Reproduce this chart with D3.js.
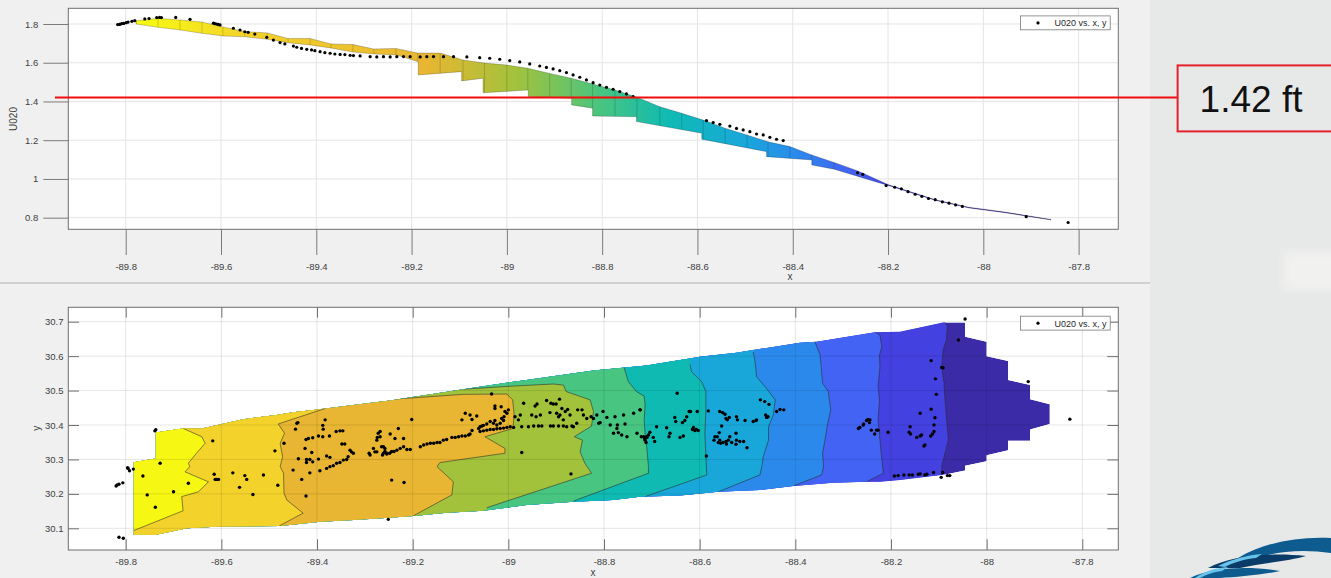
<!DOCTYPE html>
<html>
<head>
<meta charset="utf-8">
<script src="https://cdn.jsdelivr.net/npm/d3@7"></script>
<style>
body { margin: 0; background: #f0f0f0; }
svg { display: block; }
</style>
</head>
<body>
<svg id="fig" width="1331" height="578"></svg>
<script>
// ---- data ----
var xTicks = [-89.8, -89.6, -89.4, -89.2, -89, -88.8, -88.6, -88.4, -88.2, -88, -87.8];
var xTickLabels = ['-89.8', '-89.6', '-89.4', '-89.2', '-89', '-88.8', '-88.6', '-88.4', '-88.2', '-88', '-87.8'];
var uTicks = [0.8, 1, 1.2, 1.4, 1.6, 1.8];
var uTickLabels = ['0.8', '1', '1.2', '1.4', '1.6', '1.8'];
var yTicks = [30.1, 30.2, 30.3, 30.4, 30.5, 30.6, 30.7];
var yTickLabels = ['30.1', '30.2', '30.3', '30.4', '30.5', '30.6', '30.7'];
var legendLabel = 'U020 vs. x, y';
var levelValue = 1.42;
var levelLabel = '1.42 ft';

// side view of the fitted surface (x, U020)
var surfaceTop = [[-89.778,1.817],[-89.732,1.829],[-89.686,1.821],[-89.640,1.810],[-89.596,1.785],[-89.550,1.761],
  [-89.503,1.754],[-89.459,1.725],[-89.413,1.725],[-89.369,1.697],[-89.323,1.694],[-89.279,1.671],[-89.233,1.674],
  [-89.187,1.650],[-89.140,1.650],[-89.092,1.614],[-89.047,1.598],[-89.000,1.588],[-88.956,1.571],[-88.910,1.545],
  [-88.865,1.520],[-88.820,1.490],[-88.773,1.459],[-88.727,1.422],[-88.679,1.373],[-88.633,1.339],[-88.588,1.304],
  [-88.542,1.262],[-88.496,1.227],[-88.452,1.192],[-88.406,1.167],[-88.360,1.124],[-88.313,1.085],[-88.263,1.041],
  [-88.200,0.971],[-88.100,0.892],[-88.030,0.854],[-87.959,0.831],[-87.858,0.791]];
var surfaceBottom = [[-89.778,1.800],[-89.732,1.783],[-89.686,1.769],[-89.640,1.752],[-89.596,1.738],[-89.550,1.734],
  [-89.503,1.721],[-89.459,1.703],[-89.413,1.692],[-89.367,1.675],[-89.323,1.655],[-89.277,1.645],[-89.231,1.640],
  [-89.186,1.605],[-89.186,1.537],[-89.095,1.554],[-89.095,1.506],[-89.050,1.520],[-89.050,1.445],[-88.955,1.459],
  [-88.955,1.425],[-88.864,1.416],[-88.864,1.382],[-88.820,1.365],[-88.820,1.325],[-88.728,1.321],[-88.728,1.296],
  [-88.591,1.236],[-88.591,1.205],[-88.455,1.141],[-88.455,1.115],[-88.360,1.098],[-88.360,1.072],[-88.313,1.050],
  [-88.242,0.997],[-88.200,0.966],[-88.100,0.889],[-88.030,0.850],[-87.959,0.827],[-87.858,0.788]];
var surfaceColorX = [-89.75, -89.55, -89.17, -88.98, -88.80, -88.66, -88.50, -88.39, -88.28, -88.18, -88.0];

var topPoints = [[-89.817,1.797],[-89.813,1.798],[-89.811,1.800],[-89.808,1.802],[-89.804,1.803],[-89.799,1.807],
  [-89.795,1.810],[-89.787,1.814],[-89.781,1.817],[-89.760,1.826],[-89.751,1.828],[-89.735,1.833],[-89.729,1.834],
  [-89.725,1.833],[-89.695,1.834],[-89.665,1.824],[-89.616,1.804],[-89.613,1.802],[-89.609,1.800],[-89.606,1.798],
  [-89.602,1.795],[-89.574,1.778],[-89.560,1.769],[-89.550,1.760],[-89.543,1.757],[-89.529,1.748],[-89.504,1.731],
  [-89.490,1.717],[-89.476,1.704],[-89.466,1.697],[-89.448,1.686],[-89.441,1.680],[-89.431,1.674],[-89.420,1.669],
  [-89.410,1.666],[-89.403,1.662],[-89.392,1.657],[-89.382,1.652],[-89.371,1.649],[-89.361,1.645],[-89.350,1.643],
  [-89.340,1.642],[-89.329,1.638],[-89.322,1.637],[-89.308,1.635],[-89.287,1.631],[-89.273,1.630],[-89.259,1.631],
  [-89.245,1.630],[-89.231,1.631],[-89.217,1.632],[-89.203,1.631],[-89.182,1.630],[-89.168,1.631],[-89.154,1.632],
  [-89.133,1.631],[-89.112,1.631],[-89.084,1.630],[-89.057,1.626],[-89.036,1.623],[-89.015,1.618],[-88.994,1.611],
  [-88.973,1.604],[-88.952,1.594],[-88.931,1.583],[-88.917,1.576],[-88.903,1.568],[-88.889,1.559],[-88.875,1.549],
  [-88.861,1.537],[-88.847,1.525],[-88.833,1.511],[-88.819,1.497],[-88.805,1.485],[-88.791,1.473],[-88.777,1.463],
  [-88.763,1.451],[-88.749,1.439],[-88.735,1.425],[-88.581,1.301],[-88.567,1.291],[-88.553,1.282],[-88.532,1.273],
  [-88.518,1.261],[-88.504,1.253],[-88.490,1.244],[-88.476,1.232],[-88.462,1.227],[-88.448,1.215],[-88.434,1.205],
  [-88.420,1.198],[-88.264,1.032],[-88.253,1.024],[-88.204,0.966],[-88.186,0.957],[-88.172,0.949],[-88.158,0.934],
  [-88.143,0.921],[-88.129,0.910],[-88.115,0.899],[-88.101,0.893],[-88.086,0.882],[-88.072,0.875],[-88.058,0.866],
  [-88.044,0.858],[-87.910,0.805],[-87.822,0.775]];

// plan view: outline of the filled contours (x, y)
var envelope = [[-89.783,30.081],[-89.783,30.292],[-89.737,30.303],[-89.737,30.378],[-89.680,30.390],[-89.641,30.390],
  [-89.554,30.417],[-89.484,30.429],[-89.450,30.437],[-89.394,30.446],[-89.324,30.458],[-89.247,30.471],[-89.094,30.504],
  [-88.962,30.531],[-88.822,30.558],[-88.711,30.573],[-88.599,30.598],[-88.523,30.610],[-88.390,30.639],[-88.355,30.642],
  [-88.233,30.669],[-88.181,30.671],[-88.091,30.698],[-88.045,30.698],[-88.045,30.656],[-88.000,30.642],[-88.000,30.600],
  [-87.955,30.586],[-87.955,30.531],[-87.909,30.516],[-87.909,30.475],[-87.868,30.460],[-87.868,30.403],[-87.909,30.387],
  [-87.909,30.354],[-87.955,30.354],[-87.955,30.327],[-88.000,30.312],[-88.000,30.295],[-88.045,30.282],[-88.045,30.268],
  [-88.086,30.256],[-88.181,30.240],[-88.223,30.235],[-88.251,30.235],[-88.321,30.232],[-88.404,30.223],[-88.474,30.211],
  [-88.561,30.206],[-88.641,30.195],[-88.725,30.192],[-88.781,30.182],[-88.864,30.177],[-88.962,30.168],[-89.052,30.151],
  [-89.129,30.145],[-89.199,30.136],[-89.258,30.130],[-89.324,30.124],[-89.394,30.119],[-89.477,30.107],[-89.603,30.105],
  [-89.672,30.100],[-89.737,30.081]];

// contour level lines, west to east
var contour1 = [[-89.680,30.390],[-89.641,30.366],[-89.634,30.347],[-89.652,30.318],[-89.669,30.289],[-89.666,30.279],
  [-89.676,30.264],[-89.627,30.235],[-89.648,30.206],[-89.683,30.192],[-89.680,30.151],[-89.784,30.093]];
var contour2 = [[-89.383,30.448],[-89.481,30.403],[-89.468,30.376],[-89.477,30.347],[-89.472,30.308],[-89.477,30.279],
  [-89.470,30.260],[-89.469,30.202],[-89.463,30.182],[-89.429,30.144],[-89.479,30.107]];
var contour3 = [[-89.240,30.475],[-89.094,30.489],[-89.003,30.490],[-88.991,30.473],[-88.988,30.434],[-88.990,30.390],
  [-89.049,30.366],[-89.007,30.332],[-89.007,30.318],[-89.143,30.291],[-89.149,30.279],[-89.115,30.235],[-89.118,30.197],
  [-89.199,30.136]];
var contour4 = [[-89.094,30.504],[-88.990,30.513],[-88.906,30.519],[-88.885,30.516],[-88.879,30.497],[-88.829,30.473],
  [-88.822,30.439],[-88.826,30.397],[-88.862,30.366],[-88.845,30.356],[-88.850,30.322],[-88.840,30.289],[-88.826,30.260],
  [-89.045,30.160]];
var contour5 = [[-88.758,30.567],[-88.749,30.526],[-88.732,30.497],[-88.716,30.484],[-88.714,30.458],[-88.716,30.415],
  [-88.714,30.372],[-88.710,30.328],[-88.707,30.279],[-88.707,30.260],[-88.864,30.179]];
var contour6 = [[-88.620,30.576],[-88.617,30.555],[-88.596,30.526],[-88.587,30.497],[-88.587,30.444],[-88.589,30.376],
  [-88.587,30.308],[-88.585,30.255],[-88.714,30.192]];
var contour7 = [[-88.488,30.612],[-88.484,30.584],[-88.481,30.540],[-88.463,30.511],[-88.442,30.473],[-88.446,30.429],
  [-88.456,30.395],[-88.456,30.356],[-88.467,30.308],[-88.470,30.279],[-88.474,30.255],[-88.561,30.206]];
var contour8 = [[-88.359,30.641],[-88.348,30.603],[-88.343,30.521],[-88.331,30.497],[-88.326,30.444],[-88.333,30.400],
  [-88.338,30.356],[-88.343,30.318],[-88.341,30.279],[-88.345,30.255],[-88.404,30.223]];
var contour9 = [[-88.233,30.670],[-88.223,30.661],[-88.219,30.627],[-88.224,30.603],[-88.223,30.569],[-88.227,30.511],
  [-88.224,30.473],[-88.227,30.415],[-88.223,30.356],[-88.219,30.298],[-88.216,30.260],[-88.251,30.235]];
var contour10 = [[-88.087,30.698],[-88.082,30.686],[-88.084,30.647],[-88.091,30.618],[-88.094,30.569],[-88.089,30.521],
  [-88.087,30.473],[-88.084,30.424],[-88.080,30.356],[-88.087,30.318],[-88.094,30.279],[-88.094,30.250]];
var contours = [contour1, contour2, contour3, contour4, contour5, contour6, contour7, contour8, contour9, contour10];

var planPoints = [[-89.737,30.386],[-89.795,30.274],[-89.792,30.267],[-89.784,30.272],[-89.806,30.232],[-89.728,30.289],
  [-89.764,30.252],[-89.755,30.197],[-89.700,30.206],[-89.669,30.231],[-89.738,30.161],[-89.618,30.354],[-89.615,30.257],
  [-89.613,30.242],[-89.610,30.242],[-89.606,30.242],[-89.576,30.261],[-89.562,30.219],[-89.551,30.253],[-89.547,30.242],
  [-89.534,30.198],[-89.512,30.255],[-89.488,30.325],[-89.482,30.225],[-89.469,30.347],[-89.450,30.269],[-89.432,30.242],
  [-89.423,30.194],[-89.442,30.405],[-89.445,30.388],[-89.440,30.407],[-89.425,30.332],[-89.423,30.358],[-89.418,30.361],
  [-89.411,30.320],[-89.409,30.363],[-89.397,30.368],[-89.388,30.366],[-89.383,30.415],[-89.388,30.399],[-89.387,30.388],
  [-89.374,30.368],[-89.360,30.381],[-89.352,30.383],[-89.346,30.383],[-89.348,30.345],[-89.342,30.345],[-89.331,30.327],
  [-89.328,30.322],[-89.324,30.318],[-89.335,30.308],[-89.338,30.300],[-89.345,30.298],[-89.352,30.291],[-89.359,30.289],
  [-89.366,30.282],[-89.373,30.279],[-89.380,30.274],[-89.394,30.267],[-89.415,30.261],[-89.422,30.300],[-89.415,30.300],
  [-89.397,30.301],[-89.422,30.291],[-89.409,30.293],[-89.380,30.310],[-89.373,30.306],[-89.439,30.302],[-89.272,30.376],
  [-89.268,30.366],[-89.274,30.364],[-89.275,30.356],[-89.282,30.332],[-89.279,30.322],[-89.289,30.313],[-89.291,30.318],
  [-89.275,30.322],[-89.261,30.337],[-89.258,30.332],[-89.254,30.318],[-89.263,30.313],[-89.251,30.126],[-89.805,30.071],
  [-89.820,30.223],[-89.818,30.226],[-89.814,30.228],[-89.796,30.276],[-89.814,30.074],[-89.739,30.383],
  [-89.268,30.381],[-89.265,30.337],[-89.261,30.318],[-89.258,30.323],[-89.254,30.316],[-89.248,30.318],[-89.244,30.323],
  [-89.239,30.323],[-89.233,30.327],[-89.226,30.332],[-89.219,30.337],[-89.212,30.329],[-89.205,30.329],[-89.247,30.374],
  [-89.237,30.361],[-89.230,30.390],[-89.219,30.361],[-89.184,30.337],[-89.177,30.342],[-89.170,30.345],[-89.163,30.347],
  [-89.156,30.347],[-89.149,30.349],[-89.143,30.349],[-89.136,30.356],[-89.129,30.358],[-89.118,30.364],[-89.111,30.364],
  [-89.104,30.366],[-89.097,30.368],[-89.090,30.368],[-89.083,30.371],[-89.080,30.374],[-89.076,30.384],[-89.097,30.415],
  [-89.090,30.434],[-89.080,30.429],[-89.076,30.416],[-89.066,30.426],[-89.062,30.390],[-89.059,30.395],[-89.055,30.397],
  [-89.052,30.399],[-89.045,30.403],[-89.038,30.410],[-89.031,30.405],[-89.028,30.413],[-89.024,30.400],[-89.017,30.405],
  [-89.014,30.419],[-89.010,30.413],[-89.009,30.424],[-89.028,30.455],[-89.028,30.448],[-89.015,30.453],[-89.007,30.439],
  [-89.003,30.434],[-89.000,30.444],[-89.202,30.416],[-89.244,30.240],[-89.218,30.233],[-89.035,30.490],[-89.059,30.381],
  [-89.052,30.383],[-89.045,30.385],[-89.038,30.387],[-89.031,30.387],[-89.024,30.389],[-89.017,30.390],[-89.010,30.391],
  [-89.003,30.393],[-88.996,30.395],[-88.989,30.393],[-88.986,30.424],[-88.975,30.429],[-88.979,30.415],[-88.968,30.463],
  [-88.951,30.429],[-88.944,30.455],[-88.940,30.461],[-88.942,30.424],[-88.933,30.429],[-88.920,30.471],[-88.911,30.463],
  [-88.906,30.461],[-88.900,30.461],[-88.893,30.475],[-88.913,30.436],[-88.899,30.434],[-88.895,30.424],[-88.892,30.429],
  [-88.888,30.448],[-88.885,30.415],[-88.881,30.439],[-88.876,30.445],[-88.871,30.429],[-88.972,30.395],[-88.958,30.395],
  [-88.947,30.397],[-88.937,30.397],[-88.930,30.397],[-88.912,30.397],[-88.906,30.397],[-88.895,30.397],[-88.885,30.397],
  [-88.878,30.395],[-88.867,30.397],[-88.864,30.395],[-88.857,30.405],[-88.855,30.444],[-88.846,30.444],[-88.843,30.429],
  [-88.836,30.419],[-88.972,30.320],[-88.869,30.258],[-88.827,30.424],[-88.822,30.419],[-88.815,30.429],[-88.811,30.405],
  [-88.808,30.407],[-88.802,30.439],[-88.794,30.422],[-88.787,30.400],[-88.777,30.424],[-88.772,30.400],[-88.773,30.390],
  [-88.780,30.376],[-88.770,30.378],[-88.763,30.371],[-88.759,30.429],[-88.756,30.403],[-88.752,30.366],[-88.738,30.434],
  [-88.731,30.376],[-88.724,30.444],[-88.717,30.366],[-88.714,30.356],[-88.710,30.364],[-88.707,30.371],
  [-88.725,30.444],[-88.722,30.366],[-88.715,30.361],[-88.711,30.366],[-88.697,30.364],[-88.694,30.352],[-88.704,30.379],
  [-88.712,30.349],[-88.690,30.395],[-88.669,30.392],[-88.662,30.376],[-88.664,30.366],[-88.652,30.422],[-88.650,30.410],
  [-88.647,30.492],[-88.641,30.364],[-88.634,30.368],[-88.636,30.407],[-88.631,30.413],[-88.627,30.424],[-88.622,30.439],
  [-88.619,30.439],[-88.615,30.387],[-88.613,30.393],[-88.610,30.384],[-88.607,30.387],[-88.603,30.384],[-88.605,30.439],
  [-88.586,30.310],[-88.582,30.441],[-88.558,30.439],[-88.552,30.436],[-88.547,30.431],[-88.545,30.419],[-88.542,30.415],
  [-88.538,30.422],[-88.523,30.424],[-88.521,30.415],[-88.505,30.413],[-88.488,30.410],[-88.482,30.413],[-88.481,30.415],
  [-88.473,30.473],[-88.464,30.468],[-88.455,30.460],[-88.462,30.429],[-88.460,30.422],[-88.457,30.424],[-88.439,30.439],
  [-88.432,30.445],[-88.424,30.444],[-88.554,30.397],[-88.559,30.378],[-88.563,30.366],[-88.568,30.366],[-88.570,30.356],
  [-88.561,30.349],[-88.556,30.347],[-88.551,30.349],[-88.545,30.352],[-88.540,30.356],[-88.537,30.366],[-88.533,30.349],
  [-88.524,30.376],[-88.523,30.356],[-88.524,30.344],[-88.516,30.352],[-88.508,30.352],[-88.501,30.334],[-88.558,30.356],
  [-88.544,30.345],[-88.268,30.390],[-88.265,30.393],[-88.258,30.400],[-88.257,30.403],[-88.251,30.413],[-88.248,30.416],
  [-88.244,30.415],[-88.245,30.407],[-88.241,30.385],[-88.230,30.385],[-88.234,30.374],[-88.227,30.385],[-88.206,30.379],
  [-88.045,30.708],[-88.059,30.647],[-88.116,30.587],[-88.094,30.567],[-88.091,30.566],[-88.107,30.534],[-88.105,30.489],
  [-88.116,30.446],[-88.139,30.434],[-88.108,30.421],[-88.110,30.400],[-88.160,30.395],[-88.162,30.379],[-88.159,30.374],
  [-88.146,30.364],[-88.139,30.368],[-88.136,30.371],[-88.117,30.368],[-88.113,30.374],[-88.110,30.381],[-88.129,30.342],
  [-88.131,30.339],[-88.193,30.252],[-88.185,30.253],[-88.173,30.255],[-88.162,30.255],[-88.155,30.255],[-88.143,30.257],
  [-88.139,30.258],[-88.129,30.255],[-88.125,30.257],[-88.111,30.262],[-88.092,30.262],[-88.095,30.248],[-88.082,30.253],
  [-88.077,30.253],[-87.913,30.526],[-87.826,30.417]];

// ---- styles ----
var FONT = '"Liberation Sans", Arial, Helvetica, sans-serif';
var bandColors = ['#f7f714', '#f3d32b', '#e8b632', '#a2c23c', '#47c581', '#0fbab3', '#19a7da', '#2c89ec', '#4263f3', '#4341df', '#3b2ba6'];
var textColor = '#404040';

var svg = d3.select('#fig').attr('font-family', FONT);
var defs = svg.append('defs');

// backgrounds
svg.append('rect').attr('width', 1331).attr('height', 578).attr('fill', '#f0f0f0');
svg.append('rect').attr('x', 1150).attr('width', 181).attr('height', 578).attr('fill', '#e7e9e8');
defs.append('filter').attr('id', 'soft').append('feGaussianBlur').attr('stdDeviation', 5);
svg.append('rect').attr('x', 1284).attr('y', 252).attr('width', 60).attr('height', 38)
    .attr('fill', '#f1f2f0').attr('filter', 'url(#soft)');
svg.append('line').attr('x1', 0).attr('x2', 1150).attr('y1', 283).attr('y2', 283)
    .attr('stroke', '#c6c6c6').attr('stroke-width', 1.5);

// ================= upper plot: U020 against x =================
var xTop = d3.scaleLinear().domain([-89.9205, -87.7167]).range([68.3, 1118.3]);
var yTop = d3.scaleLinear().domain([0.740, 1.881]).range([229.3, 8.3]);
var lineTop = d3.line().x(function(d){ return xTop(d[0]); }).y(function(d){ return yTop(d[1]); });

var gTop = svg.append('g');
gTop.append('rect').attr('x', 68.3).attr('y', 8.3).attr('width', 1050).attr('height', 221).attr('fill', '#fff');

gTop.selectAll('line.vg').data(xTicks).enter().append('line')
    .attr('x1', function(d){ return xTop(d); }).attr('x2', function(d){ return xTop(d); })
    .attr('y1', 8.3).attr('y2', 229.3).attr('stroke', '#e4e4e4');
gTop.selectAll('line.hg').data(uTicks).enter().append('line')
    .attr('y1', function(d){ return yTop(d); }).attr('y2', function(d){ return yTop(d); })
    .attr('x1', 68.3).attr('x2', 1118.3).attr('stroke', '#e4e4e4');

// surface, coloured west->east
var x0 = xTop(surfaceColorX[0]), x1 = xTop(surfaceColorX[surfaceColorX.length - 1]);
var grad = defs.append('linearGradient').attr('id', 'surfGrad').attr('gradientUnits', 'userSpaceOnUse')
    .attr('x1', x0).attr('x2', x1).attr('y1', 0).attr('y2', 0);
surfaceColorX.forEach(function(v, i){
    grad.append('stop').attr('offset', (xTop(v) - x0) / (x1 - x0)).attr('stop-color', bandColors[i]);
});
var surfaceOutline = surfaceTop.concat(surfaceBottom.slice().reverse());
defs.append('clipPath').attr('id', 'surfClip').append('path').attr('d', lineTop(surfaceOutline) + 'Z');

gTop.append('path').attr('d', lineTop(surfaceOutline) + 'Z')
    .attr('fill', 'url(#surfGrad)').attr('stroke', 'rgba(0,0,0,0.35)').attr('stroke-width', 0.6);
gTop.append('g').attr('clip-path', 'url(#surfClip)')
    .selectAll('line').data(surfaceTop).enter().append('line')
    .attr('x1', function(d){ return xTop(d[0]); }).attr('x2', function(d){ return xTop(d[0]); })
    .attr('y1', yTop(1.9)).attr('y2', yTop(0.7))
    .attr('stroke', 'rgba(0,0,0,0.28)').attr('stroke-width', 0.6);

gTop.selectAll('circle').data(topPoints).enter().append('circle')
    .attr('cx', function(d){ return xTop(d[0]); }).attr('cy', function(d){ return yTop(d[1]); })
    .attr('r', 1.6).attr('fill', '#000');

gTop.append('rect').attr('x', 68.3).attr('y', 8.3).attr('width', 1050).attr('height', 221)
    .attr('fill', 'none').attr('stroke', '#6e6e6e');

var axTopX = gTop.append('g').attr('transform', 'translate(0,229.3)')
    .call(d3.axisBottom(xTop).tickValues(xTicks).tickFormat(function(d, i){ return xTickLabels[i]; })
        .tickSizeInner(25.7).tickSizeOuter(0).tickPadding(8.3));
var axTopY = gTop.append('g').attr('transform', 'translate(68.3,0)')
    .call(d3.axisLeft(yTop).tickValues(uTicks).tickFormat(function(d, i){ return uTickLabels[i]; })
        .tickSizeInner(25).tickSizeOuter(0).tickPadding(5));
[axTopX, axTopY].forEach(function(a){
    a.attr('font-family', FONT).attr('font-size', 9.5);
    a.select('.domain').remove();
    a.selectAll('line').attr('stroke', '#7a7a7a');
    a.selectAll('text').attr('fill', textColor);
});
gTop.append('text').attr('transform', 'translate(17,119) rotate(-90)').attr('text-anchor', 'middle')
    .attr('font-size', 10).attr('fill', textColor).text('U020');
gTop.append('text').attr('x', 790).attr('y', 280).attr('text-anchor', 'middle')
    .attr('font-size', 10).attr('fill', textColor).text('x');

// ================= lower plot: y against x =================
var xBot = d3.scaleLinear().domain([-89.92, -87.7247]).range([68.3, 1118.3]);
var yBot = d3.scaleLinear().domain([30.037, 30.7418]).range([550, 307.3]);
var lineBot = d3.line().x(function(d){ return xBot(d[0]); }).y(function(d){ return yBot(d[1]); });

var gBot = svg.append('g');
gBot.append('rect').attr('x', 68.3).attr('y', 307.3).attr('width', 1050).attr('height', 242.7).attr('fill', '#fff');

defs.append('clipPath').attr('id', 'envClip').append('path').attr('d', lineBot(envelope) + 'Z');
var gBands = gBot.append('g').attr('clip-path', 'url(#envClip)');
gBands.append('path').attr('d', lineBot(envelope) + 'Z').attr('fill', bandColors[contours.length]);
for (var k = contours.length - 1; k >= 0; k--) {
    var c = contours[k];
    var poly = [[c[0][0], 30.95]].concat(c, [[c[c.length - 1][0], 29.9], [-90.6, 29.9], [-90.6, 30.95]]);
    gBands.append('path').attr('d', lineBot(poly) + 'Z').attr('fill', bandColors[k]);
}
gBands.selectAll('path.level').data(contours).enter().append('path')
    .attr('d', function(d){ return lineBot(d); })
    .attr('fill', 'none').attr('stroke', '#2a2a2a').attr('stroke-opacity', 0.8).attr('stroke-width', 0.7);

gBot.selectAll('line.vg').data(xTicks).enter().append('line')
    .attr('x1', function(d){ return xBot(d); }).attr('x2', function(d){ return xBot(d); })
    .attr('y1', 307.3).attr('y2', 550).attr('stroke', '#000').attr('stroke-opacity', 0.1);
gBot.selectAll('line.hg').data(yTicks).enter().append('line')
    .attr('y1', function(d){ return yBot(d); }).attr('y2', function(d){ return yBot(d); })
    .attr('x1', 68.3).attr('x2', 1118.3).attr('stroke', '#000').attr('stroke-opacity', 0.1);

gBot.selectAll('circle').data(planPoints).enter().append('circle')
    .attr('cx', function(d){ return xBot(d[0]); }).attr('cy', function(d){ return yBot(d[1]); })
    .attr('r', 1.7).attr('fill', '#000');

gBot.append('rect').attr('x', 68.3).attr('y', 307.3).attr('width', 1050).attr('height', 242.7)
    .attr('fill', 'none').attr('stroke', '#6e6e6e');

var axB = gBot.append('g').attr('transform', 'translate(0,550)')
    .call(d3.axisBottom(xBot).tickValues(xTicks).tickFormat(function(d, i){ return xTickLabels[i]; })
        .tickSizeInner(-10.7).tickSizeOuter(0).tickPadding(7.8));
var axL = gBot.append('g').attr('transform', 'translate(68.3,0)')
    .call(d3.axisLeft(yBot).tickValues(yTicks).tickFormat(function(d, i){ return yTickLabels[i]; })
        .tickSizeInner(-10.7).tickSizeOuter(0).tickPadding(4.8));
var axT = gBot.append('g').attr('transform', 'translate(0,307.3)')
    .call(d3.axisTop(xBot).tickValues(xTicks).tickFormat('').tickSizeInner(-10.4).tickSizeOuter(0));
var axR = gBot.append('g').attr('transform', 'translate(1118.3,0)')
    .call(d3.axisRight(yBot).tickValues(yTicks).tickFormat('').tickSizeInner(-11).tickSizeOuter(0));
[axB, axL, axT, axR].forEach(function(a){
    a.attr('font-family', FONT).attr('font-size', 9.5);
    a.select('.domain').remove();
    a.selectAll('line').attr('stroke', '#6e6e6e');
    a.selectAll('text').attr('fill', textColor);
});
gBot.append('text').attr('transform', 'translate(40,428.3) rotate(-90)').attr('text-anchor', 'middle')
    .attr('font-size', 10).attr('fill', textColor).text('y');
gBot.append('text').attr('x', 593).attr('y', 576).attr('text-anchor', 'middle')
    .attr('font-size', 10).attr('fill', textColor).text('x');

// legends
[15.9, 316.2].forEach(function(ly){
    var g = svg.append('g').attr('transform', 'translate(1020.5,' + ly + ')');
    g.append('rect').attr('width', 89.7).attr('height', 13.9).attr('fill', '#fff')
        .attr('stroke', '#7a7a7a').attr('stroke-width', 0.8);
    g.append('circle').attr('cx', 17.5).attr('cy', 7).attr('r', 1.6).attr('fill', '#000');
    g.append('text').attr('x', 34).attr('y', 10.4).attr('font-size', 9).attr('fill', '#262626').text(legendLabel);
});

// ================= annotation: 1.42 ft level =================
svg.append('line').attr('x1', 55).attr('x2', 1177.6)
    .attr('y1', yTop(levelValue)).attr('y2', yTop(levelValue))
    .attr('stroke', '#f20c0c').attr('stroke-width', 2);
svg.append('rect').attr('x', 1177.6).attr('y', 65.4).attr('width', 200).attr('height', 66)
    .attr('fill', 'none').attr('stroke', '#e3212a').attr('stroke-width', 2);
svg.append('text').attr('x', 1199.6).attr('y', 111.7).attr('font-size', 37).attr('fill', '#111')
    .text(levelLabel);

// ================= logo corner =================
var logo = svg.append('g');
logo.append('path').attr('d', 'M1238,558 C1265,542 1300,536 1331,538 L1331,553 C1305,549 1278,551 1262,557 Z').attr('fill', '#0d5b8f');
logo.append('path').attr('d', 'M1208,568 C1230,556 1270,552 1306,556 C1290,561 1262,563 1240,568 Z').attr('fill', '#0b3c69');
logo.append('path').attr('d', 'M1190,578 C1212,567 1250,566 1280,571 C1262,575 1235,577 1220,578 Z').attr('fill', '#0d5b8f');
logo.append('path').attr('d', 'M1218,566 C1232,559 1248,555 1262,554 L1256,558 C1244,559 1232,563 1225,567 Z').attr('fill', '#67c3ea');
logo.append('path').attr('d', 'M1195,578 C1205,571 1215,568 1228,567 L1222,571 C1214,572 1205,575 1200,578 Z').attr('fill', '#67c3ea');
</script>
</body>
</html>
